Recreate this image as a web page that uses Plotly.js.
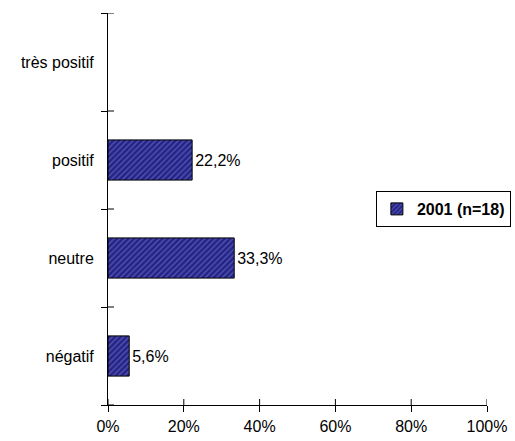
<!DOCTYPE html>
<html>
<head>
<meta charset="utf-8">
<script src="https://cdn.plot.ly/plotly-3.0.1.min.js"></script>
<style>html,body{margin:0;padding:0;background:#fff;}#chart{width:515px;height:441px;}</style>
</head>
<body>
<div id="chart"></div>
<script>
// Opinion categories, bottom to top
const categories = ['négatif', 'neutre', 'positif', 'très positif'];
// Share of answers (%), 2001 survey
const values2001 = [5.6, 33.3, 22.2, null];
const seriesName = '2001 (n=18)';
const xTickVals = [0, 20, 40, 60, 80, 100];
const xTickText = ['0%', '20%', '40%', '60%', '80%', '100%'];

const labels = values2001.map(v => v === null ? '' : v.toFixed(1).replace('.', ',') + '%');

const font = {family: 'Liberation Sans, Arial, sans-serif', size: 16, color: '#000'};

const bars = {
  type: 'bar',
  orientation: 'h',
  y: categories,
  x: values2001,
  name: seriesName,
  width: 0.41,
  text: labels,
  textposition: 'outside',
  textfont: font,
  cliponaxis: false,
  hoverinfo: 'skip',
  marker: {
    color: '#24248a',
    line: {color: '#000', width: 1},
    pattern: {shape: '/', bgcolor: '#23238a', fgcolor: '#8686cc', size: 4, solidity: 0.35, fillmode: 'overlay'}
  }
};

// inner halves of the axis ticks, so every tick crosses its axis line
const tickLine = {color: '#000', width: 1};
const xInnerTicks = xTickVals.map(v => ({
  type: 'line', xref: 'x', yref: 'paper', ysizemode: 'pixel', yanchor: 0,
  x0: v, x1: v, y0: 0, y1: 6, line: tickLine
}));
const yBoundaries = categories.map((c, i) => i - 0.5).concat([categories.length - 0.5]);
const yInnerTicks = yBoundaries.map(b => ({
  type: 'line', xref: 'paper', yref: 'y', xsizemode: 'pixel', xanchor: 0,
  x0: 0, x1: 6, y0: b, y1: b, line: tickLine
}));

const axisCommon = {
  showgrid: false, zeroline: false, showline: true, linecolor: '#000', linewidth: 1,
  tickcolor: '#000', tickwidth: 1, ticklen: 6, ticks: 'outside', tickfont: font, fixedrange: true
};

const layout = {
  width: 515, height: 441,
  margin: {l: 108, r: 28, t: 13, b: 36, autoexpand: false},
  paper_bgcolor: '#fff', plot_bgcolor: '#fff',
  font: font,
  showlegend: true,
  xaxis: Object.assign({}, axisCommon, {
    range: [0, 100], tickvals: xTickVals, ticktext: xTickText, ticklabelstandoff: 1
  }),
  yaxis: Object.assign({}, axisCommon, {
    type: 'category', categoryorder: 'array', categoryarray: categories,
    range: [-0.5, categories.length - 0.5], tickson: 'boundaries', ticklabelstandoff: 10
  }),
  shapes: xInnerTicks.concat(yInnerTicks),
  legend: {
    x: 1.063, xanchor: 'right', y: 0.5, yanchor: 'middle',
    bgcolor: '#fff', bordercolor: '#000', borderwidth: 1,
    font: {family: 'Liberation Sans, Arial, sans-serif', size: 16, color: '#000', weight: 'bold'},
    itemwidth: 30
  }
};

Plotly.newPlot('chart', [bars], layout, {displayModeBar: false, staticPlot: true});
</script>
</body>
</html>
